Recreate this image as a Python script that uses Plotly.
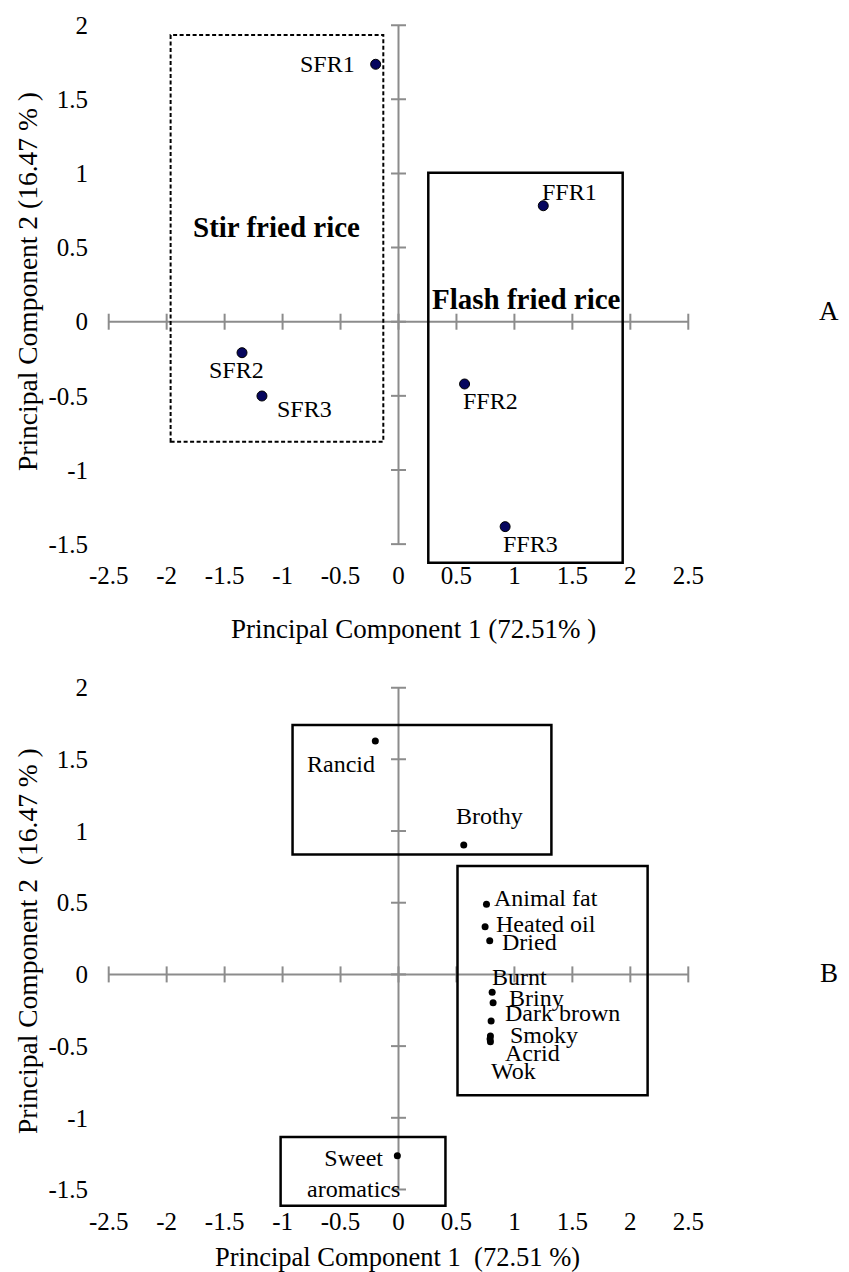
import plotly.graph_objects as go

# ---------------- data ----------------
sample_names = ["SFR1", "SFR2", "SFR3", "FFR1", "FFR2", "FFR3"]
sample_pc1 = [-0.197, -1.35, -1.178, 1.249, 0.570, 0.920]
sample_pc2 = [1.736, -0.209, -0.501, 0.782, -0.420, -1.382]

attr_names = ["Rancid", "Brothy", "Animal fat", "Heated oil", "Dried", "Burnt",
              "Briny", "Dark brown", "Smoky", "Acrid", "Wok", "Sweet<br>aromatics"]
attr_pc1 = [-0.20, 0.563, 0.759, 0.747, 0.787, 0.808, 0.816, 0.799, 0.793, 0.793, 0.79, -0.01]
attr_pc2 = [1.628, 0.902, 0.489, 0.333, 0.235, -0.125, -0.197, -0.325, -0.43, -0.469, -0.45, -1.264]

x_ticks = [-2.5, -2, -1.5, -1, -0.5, 0, 0.5, 1, 1.5, 2, 2.5]
x_tick_labels = ["-2.5", "-2", "-1.5", "-1", "-0.5", "0", "0.5", "1", "1.5", "2", "2.5"]
y_ticks = [-1.5, -1, -0.5, 0, 0.5, 1, 1.5, 2]
y_tick_labels = ["-1.5", "-1", "-0.5", "0", "0.5", "1", "1.5", "2"]

# group boxes (x0, x1, y0, y1)
boxes_a = [(-1.966, -0.131, -0.809, 1.933, "dash"), (0.257, 1.934, -1.625, 1.005, "solid")]
boxes_b = [(-0.914, 1.319, 0.837, 1.739), (0.509, 2.149, -0.843, 0.756), (-1.017, 0.405, -1.613, -1.134)]
group_labels_a = [("Stir fried rice", -1.051, 0.639), ("Flash fried rice", 1.100, 0.153)]

# ---------------- label placement (style) ----------------
sample_label_pos = {
    "SFR1": ("right", -19, 0), "SFR2": ("center", -6, -17), "SFR3": ("left", 13, -13),
    "FFR1": ("left", -3, 14), "FFR2": ("left", -4, -17), "FFR3": ("left", -4, -17),
}
attr_label_pos = {
    "Rancid": ("right", 2, -23), "Brothy": ("left", -10, 29), "Animal fat": ("left", 6, 6),
    "Heated oil": ("left", 9, 3), "Dried": ("left", 10, -1), "Burnt": ("left", -2, 15),
    "Briny": ("left", 14, 5), "Dark brown": ("left", 12, 8), "Smoky": ("left", 18, 1),
    "Acrid": ("left", 13, -11), "Wok": ("left", -1, -32), "Sweet<br>aromatics": ("center", -44, -18),
}

FONT = "Liberation Serif, Times New Roman, serif"
AXIS_GREY = "#8c8c8c"

# page body adds an 8px offset; figure is sized to fit the window
OFF = 8
W, H = 849 - OFF, 1272 - OFF


def px(x):
    return (x - OFF) / W


def py(y):
    return 1 - (y - OFF) / H


x_range = [-2.67, 2.67]
xdom = [px(89), px(708)]
ya_range = [-1.64, 2.1]
ya_dom = [py(564.9), py(10.3)]
yb_range = [-1.65, 2.1]
yb_dom = [py(1211.0), py(673.3)]

fig = go.Figure()


def axis_cross(xa, ya, ylen_units, xlen_units):
    # axis lines through origin with cross tick marks
    xs, ys = [], []
    xs += [x_ticks[0], x_ticks[-1], None]
    ys += [0, 0, None]
    xs += [0, 0, None]
    ys += [y_ticks[0], y_ticks[-1], None]
    for t in x_ticks:
        xs += [t, t, None]
        ys += [-ylen_units, ylen_units, None]
    for t in y_ticks:
        xs += [-xlen_units, xlen_units, None]
        ys += [t, t, None]
    fig.add_trace(go.Scatter(x=xs, y=ys, mode="lines", line=dict(color=AXIS_GREY, width=2),
                             xaxis=xa, yaxis=ya, hoverinfo="skip", showlegend=False))


axis_cross("x", "y", 8 / 148.3, 7.5 / 115.9)
axis_cross("x2", "y2", 8 / 143.4, 7.5 / 116)

# sample scores (panel A)
fig.add_trace(go.Scatter(x=sample_pc1, y=sample_pc2, mode="markers", xaxis="x", yaxis="y",
                         marker=dict(size=10, color="#06065e", line=dict(color="black", width=1)),
                         showlegend=False))
# attribute loadings (panel B)
fig.add_trace(go.Scatter(x=attr_pc1, y=attr_pc2, mode="markers", xaxis="x2", yaxis="y2",
                         marker=dict(size=7, color="black"), showlegend=False))

ann = []
for n, xv, yv in zip(sample_names, sample_pc1, sample_pc2):
    anc, xs, ys = sample_label_pos[n]
    ann.append(dict(x=xv, y=yv, xref="x", yref="y", text=n, showarrow=False, xanchor=anc,
                    yanchor="middle", xshift=xs, yshift=ys, font=dict(family=FONT, size=24, color="black")))
for n, xv, yv in zip(attr_names, attr_pc1, attr_pc2):
    anc, xs, ys = attr_label_pos[n]
    ann.append(dict(x=xv, y=yv, xref="x2", yref="y2", text=n, showarrow=False, xanchor=anc,
                    yanchor="middle", xshift=xs, yshift=ys, font=dict(family=FONT, size=24, color="black")))
for t, xv, yv in group_labels_a:
    ann.append(dict(x=xv, y=yv, xref="x", yref="y", text="<b>" + t + "</b>", showarrow=False,
                    xanchor="center", yanchor="middle", font=dict(family=FONT, size=29, color="black")))


def paper_text(x, y, text, size, angle=0):
    return dict(x=px(x), y=py(y), xref="paper", yref="paper", text=text, showarrow=False,
                xanchor="center", yanchor="middle", textangle=angle,
                font=dict(family=FONT, size=size, color="black"))


# axis titles and panel letters
ann += [
    paper_text(413, 629, "Principal Component 1 (72.51% )", 27),
    paper_text(397, 1257, "Principal Component 1  (72.51 %)", 26.5),
    paper_text(27, 282, "Principal Component 2 (16.47 % )", 27.5, -90),
    paper_text(27, 941, "Principal Component 2  (16.47 % )", 27.5, -90),
    paper_text(829, 311, "A", 27),
    paper_text(829, 972.5, "B", 27),
]

shapes = []
for x0, x1, y0, y1, d in boxes_a:
    shapes.append(dict(type="rect", xref="x", yref="y", x0=x0, x1=x1, y0=y0, y1=y1,
                       line=dict(color="black", width=2.5 if d == "solid" else 2,
                                 dash="4px,2.5px" if d == "dash" else "solid")))
for x0, x1, y0, y1 in boxes_b:
    shapes.append(dict(type="rect", xref="x2", yref="y2", x0=x0, x1=x1, y0=y0, y1=y1,
                       line=dict(color="black", width=2.5)))

common_x = dict(range=x_range, showgrid=False, zeroline=False, showline=False, ticks="",
                tickvals=x_ticks, ticktext=x_tick_labels, ticklabelstandoff=-7,
                tickfont=dict(family=FONT, size=25, color="black"))
common_y = dict(showgrid=False, zeroline=False, showline=False, ticks="",
                tickvals=y_ticks, ticktext=y_tick_labels, tickfont=dict(family=FONT, size=25, color="black"))

fig.update_layout(
    width=W, height=H, margin=dict(l=0, r=0, t=0, b=0),
    paper_bgcolor="white", plot_bgcolor="white",
    xaxis=dict(domain=xdom, anchor="y", **common_x),
    yaxis=dict(domain=ya_dom, range=ya_range, anchor="x", **common_y),
    xaxis2=dict(domain=xdom, anchor="y2", **common_x),
    yaxis2=dict(domain=yb_dom, range=yb_range, anchor="x2", **common_y),
    annotations=ann, shapes=shapes, showlegend=False,
)

fig.write_html("out.html")
